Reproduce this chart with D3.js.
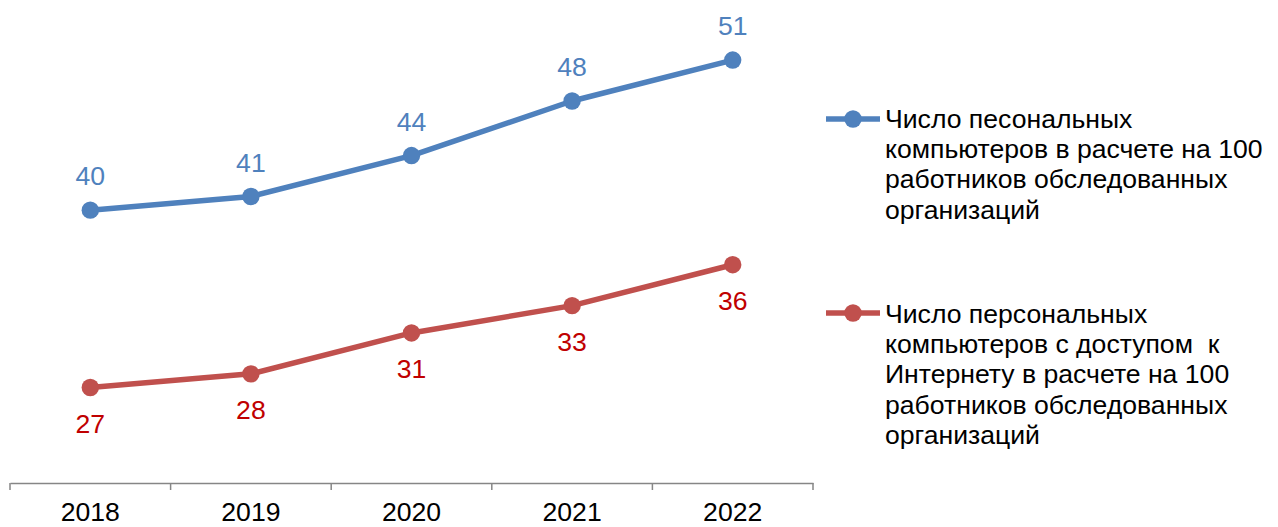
<!DOCTYPE html>
<html>
<head>
<meta charset="utf-8">
<script src="https://cdn.jsdelivr.net/npm/d3@7"></script>
<style>
  body { margin: 0; background: #fff; }
  svg { display: block; font-family: "Liberation Sans", Arial, sans-serif; }
</style>
</head>
<body>
<div id="chart"></div>
<script>
// ── data ──
const years = ["2018", "2019", "2020", "2021", "2022"];
const pcPer100 = [40, 41, 44, 48, 51];
const pcInternetPer100 = [27, 28, 31, 33, 36];
const legendPc = [
  "Число песональных",
  "компьютеров в расчете на 100",
  "работников обследованных",
  "организаций",
];
const legendInternet = [
  "Число персональных",
  "компьютеров с доступом  к",
  "Интернету в расчете на 100",
  "работников обследованных",
  "организаций",
];

const C = { blue: "#4F81BD", red: "#C0504D", redText: "#C00000", axis: "#868686" };
const FS = "26.6px";

const W = 1278,
  H = 527,
  M = { l: 10, r: 465, t: 5.5, b: 44 };

const svg = d3
  .select("#chart")
  .append("svg")
  .attr("width", W)
  .attr("height", H);

const x = d3.scaleBand().domain(years).range([M.l, W - M.r]);
const y = d3.scaleLinear().domain([20, 55]).range([H - M.b, M.t]);

// x axis
const axis = svg
  .append("g")
  .attr("transform", `translate(0,${y(20)})`)
  .call(d3.axisBottom(x).tickSize(0).tickSizeOuter(0));
axis.select(".domain").attr("stroke", C.axis).attr("stroke-width", 1.5);
axis
  .selectAll("text")
  .attr("fill", "#000")
  .attr("font-size", FS)
  .attr("dy", 0)
  .attr("y", 38);
// tick marks on category boundaries
const bounds = years.map((d) => x(d)).concat([x(years[years.length - 1]) + x.bandwidth()]);
axis
  .selectAll(".bound")
  .data(bounds)
  .enter()
  .append("line")
  .attr("x1", (d) => d)
  .attr("x2", (d) => d)
  .attr("y1", 0)
  .attr("y2", 7)
  .attr("stroke", C.axis)
  .attr("stroke-width", 1.5);

const cx = (i) => x(years[i]) + x.bandwidth() / 2;
const line = d3
  .line()
  .x((d, i) => cx(i))
  .y((d) => y(d));

function drawSeries(vals, color, labelColor, above) {
  svg
    .append("path")
    .datum(vals)
    .attr("d", line)
    .attr("fill", "none")
    .attr("stroke", color)
    .attr("stroke-width", 5.5)
    .attr("stroke-linejoin", "round");
  svg
    .append("g")
    .selectAll("circle")
    .data(vals)
    .enter()
    .append("circle")
    .attr("cx", (d, i) => cx(i))
    .attr("cy", (d) => y(d))
    .attr("r", 8.7)
    .attr("fill", color);
  svg
    .append("g")
    .selectAll("text")
    .data(vals)
    .enter()
    .append("text")
    .attr("x", (d, i) => cx(i))
    .attr("y", (d) => y(d) + (above ? -25 : 45))
    .attr("text-anchor", "middle")
    .attr("font-size", FS)
    .attr("fill", labelColor)
    .text((d) => d);
}

drawSeries(pcPer100, C.blue, C.blue, true);
drawSeries(pcInternetPer100, C.red, C.redText, false);

// legend
function legendItem(lines, color, my, baseline) {
  const g = svg.append("g");
  g.append("line")
    .attr("x1", 826)
    .attr("x2", 880)
    .attr("y1", my)
    .attr("y2", my)
    .attr("stroke", color)
    .attr("stroke-width", 5.5);
  g.append("circle").attr("cx", 853).attr("cy", my).attr("r", 8.7).attr("fill", color);
  g.selectAll("text")
    .data(lines)
    .enter()
    .append("text")
    .attr("x", 885)
    .attr("y", (d, i) => baseline + i * 30.2)
    .attr("font-size", FS)
    .attr("fill", "#000")
    .style("white-space", "pre")
    .text((d) => d);
}
legendItem(legendPc, C.blue, 119, 128);
legendItem(legendInternet, C.red, 313, 323);
</script>
</body>
</html>
